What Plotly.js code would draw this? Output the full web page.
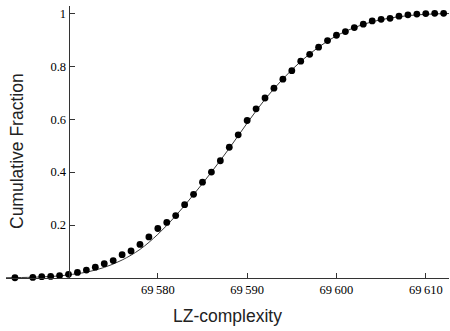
<!DOCTYPE html>
<html>
<head>
<meta charset="utf-8">
<script src="https://cdn.plot.ly/plotly-3.0.1.min.js"></script>
<style>html,body{margin:0;padding:0;background:#fff;}#chart{width:450px;height:331px;}</style>
</head>
<body>
<div id="chart"></div>
<script>
// Empirical cumulative fraction (points)
const lzComplexity = [69564, 69566, 69567, 69568, 69569, 69570, 69571, 69572, 69573, 69574,
  69575, 69576, 69577, 69578, 69579, 69580, 69581, 69582, 69583, 69584,
  69585, 69586, 69587, 69588, 69589, 69590, 69591, 69592, 69593, 69594,
  69595, 69596, 69597, 69598, 69599, 69600, 69601, 69602, 69603, 69604,
  69605, 69606, 69607, 69608, 69609, 69610, 69611, 69612];
const cumFraction = [0.001, 0.002, 0.005, 0.006, 0.009, 0.014, 0.021, 0.030, 0.041, 0.054,
  0.066, 0.088, 0.102, 0.127, 0.155, 0.187, 0.210, 0.236, 0.277, 0.316,
  0.362, 0.400, 0.443, 0.494, 0.541, 0.595, 0.639, 0.680, 0.717, 0.751,
  0.783, 0.819, 0.845, 0.872, 0.897, 0.917, 0.931, 0.946, 0.959, 0.971,
  0.977, 0.981, 0.989, 0.994, 0.997, 0.999, 1.000, 1.000];

// Fitted smooth curve
const curveX = [69563, 69566, 69569, 69570, 69572, 69574, 69576, 69578, 69580, 69582,
  69584, 69586, 69588, 69590, 69592, 69594, 69596, 69598, 69600, 69602,
  69604, 69606, 69608, 69610, 69612.6];
const curveY = [0.001, 0.003, 0.008, 0.012, 0.022, 0.040, 0.068, 0.108, 0.165, 0.235,
  0.315, 0.400, 0.490, 0.585, 0.675, 0.752, 0.818, 0.872, 0.915, 0.946,
  0.968, 0.982, 0.991, 0.996, 0.999];

const xTicks = [69580, 69590, 69600, 69610];
const xTickText = ["69\u2009580", "69\u2009590", "69\u2009600", "69\u2009610"];
const yTicks = [0.2, 0.4, 0.6, 0.8, 1];
const yTickText = ["0.2", "0.4", "0.6", "0.8", "1"];

const xMin = 69563.0, xMax = 69612.6, yAxisAt = 69570;

const traces = [
  {x: curveX, y: curveY, type: 'scatter', mode: 'lines',
   line: {color: '#3a3a3a', width: 1, shape: 'spline', smoothing: 1}, hoverinfo: 'skip', cliponaxis: false},
  {x: lzComplexity, y: cumFraction, type: 'scatter', mode: 'markers',
   marker: {color: '#000', size: 6.8}, cliponaxis: false}
];

const tickFont = {family: '"Liberation Serif", "DejaVu Serif", serif', size: 12.5, color: '#000'};
const titleFont = {family: '"Liberation Sans", Arial, sans-serif', size: 17.5, color: '#222'};

const layout = {
  width: 450, height: 331,
  margin: {l: 6, r: 1, t: 6, b: 53},
  paper_bgcolor: '#fff', plot_bgcolor: '#fff',
  showlegend: false,
  xaxis: {
    range: [xMin, xMax], showgrid: false, zeroline: false,
    showline: true, linecolor: '#333', linewidth: 1,
    ticks: 'inside', ticklen: 5, tickcolor: '#333', tickwidth: 1,
    tickvals: xTicks, ticktext: xTickText, tickfont: tickFont,
    title: {text: 'LZ-complexity', font: titleFont, standoff: 13},
    automargin: false
  },
  yaxis: {
    range: [0, 1.0275], showgrid: false, zeroline: false,
    anchor: 'free', position: (yAxisAt - xMin) / (xMax - xMin),
    showline: true, linecolor: '#333', linewidth: 1,
    ticks: 'inside', ticklen: 5, tickcolor: '#333', tickwidth: 1,
    tickvals: yTicks, ticktext: yTickText, tickfont: tickFont,
    automargin: false
  },
  annotations: [{
    text: 'Cumulative Fraction', font: titleFont, textangle: -90,
    xref: 'paper', yref: 'paper', x: (17 - 6) / 443, y: (278 - 151) / 272,
    xanchor: 'center', yanchor: 'middle', showarrow: false
  }]
};

Plotly.newPlot('chart', traces, layout, {displayModeBar: false, staticPlot: true});
</script>
</body>
</html>
